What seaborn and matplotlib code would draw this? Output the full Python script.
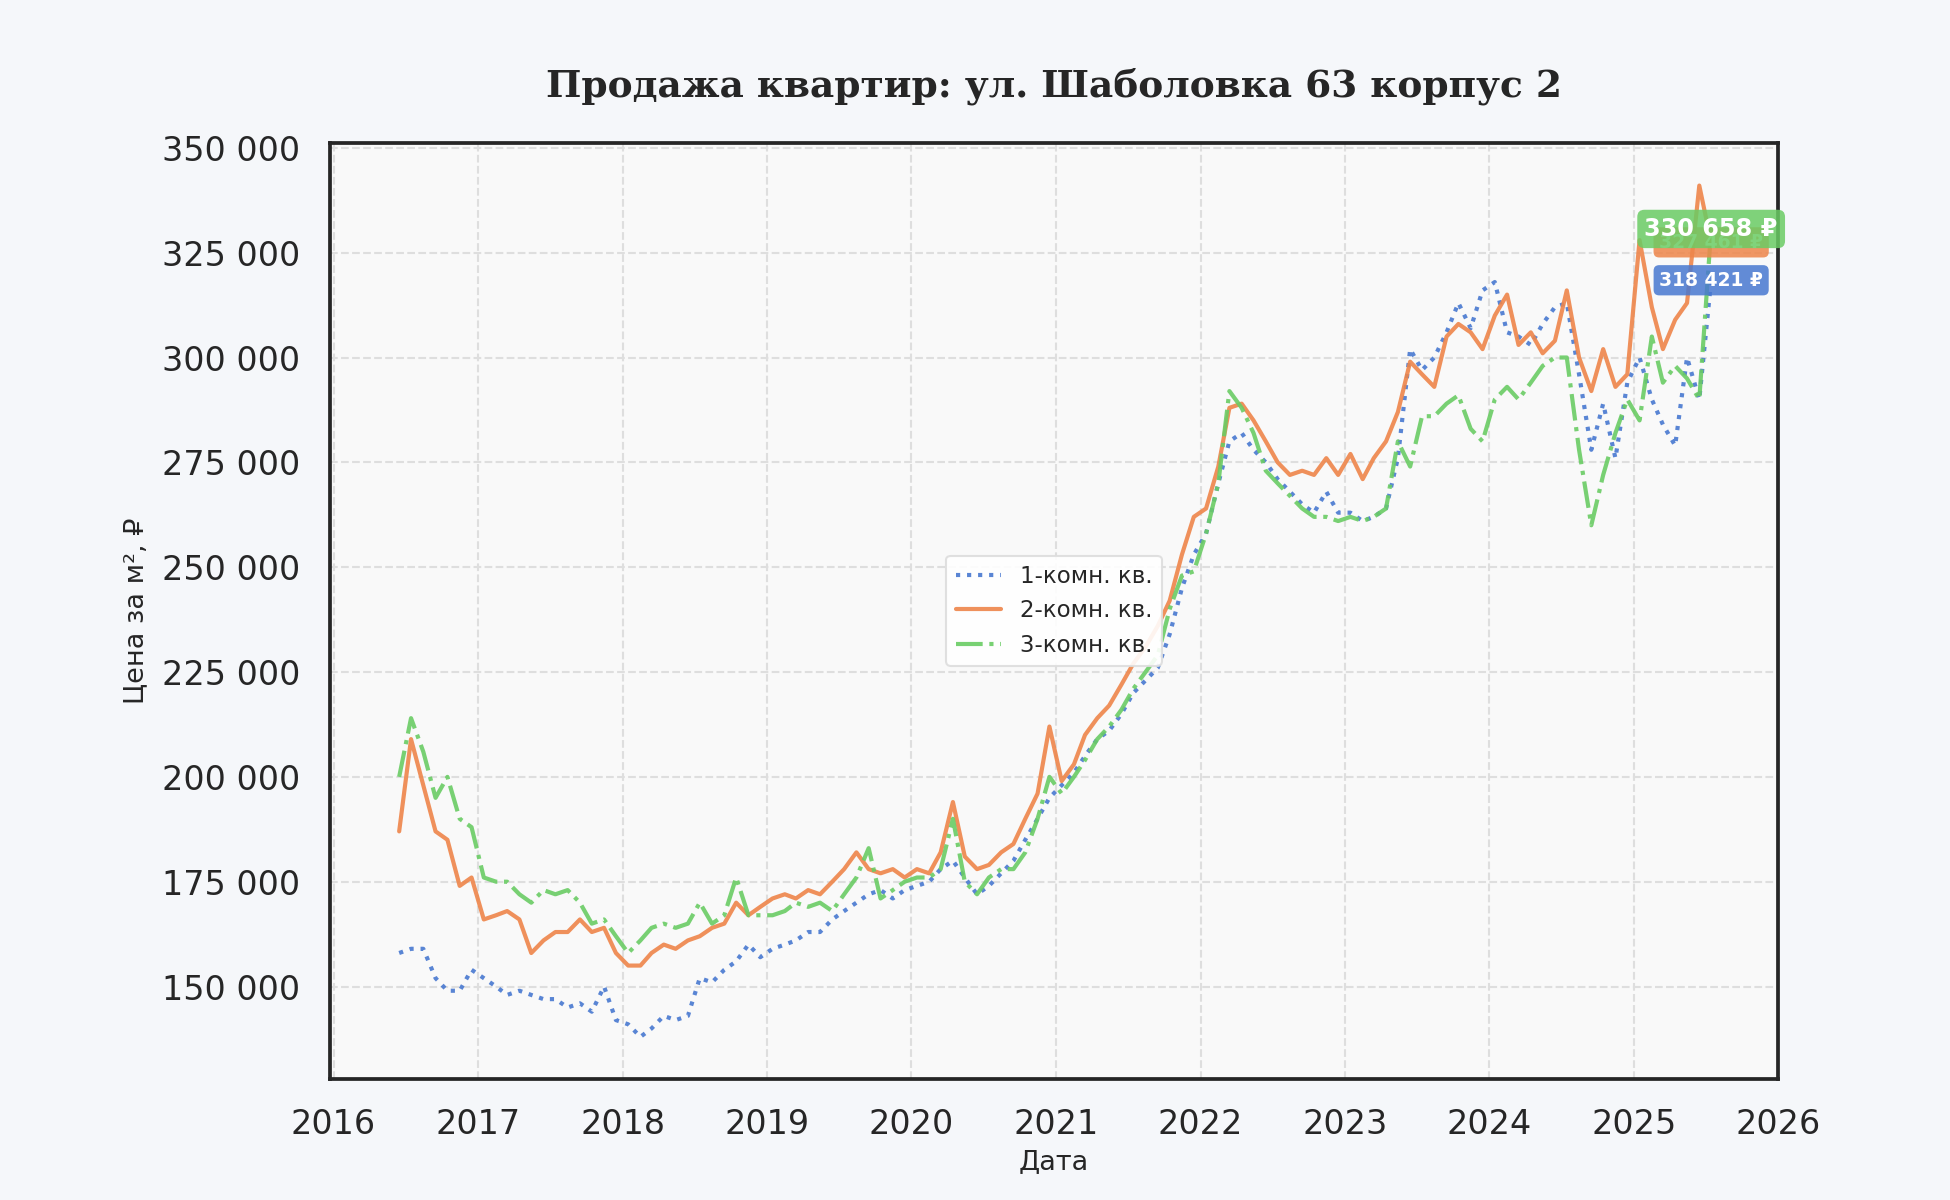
import numpy as np
import pandas as pd
import matplotlib
matplotlib.use("Agg")
import matplotlib.pyplot as plt
import matplotlib.dates as mdates
from matplotlib.ticker import FuncFormatter, MultipleLocator
import seaborn as sns

# ---------------- data (price per m², thousands of ₽, monthly) ----------------
start_date = "2016-06-01"
end_date = "2025-07-01"

room1 = [158, 159, 159, 152, 149, 149, 154,
         152, 150, 148, 149, 148, 147, 147, 145, 146, 144, 150, 142,
         141, 138, 140, 143, 142, 143, 152, 151, 154, 156, 160, 157,
         159, 160, 161, 163, 163, 166, 168, 170, 172, 173, 171, 173,
         174, 175, 178, 180, 176, 172, 174, 177, 180, 185, 190, 195,
         198, 201, 205, 209, 211, 215, 220, 223, 226, 234, 245, 253,
         258, 270, 280, 282, 278, 275, 271, 268, 265, 263, 268, 263,
         263, 261, 262, 264, 276, 302, 297, 300, 306, 313, 307, 316,
         318, 306, 305, 303, 308, 312, 313, 296, 278, 289, 276, 294,
         300, 290, 284, 279, 300, 290, 318.421]

room2 = [187, 209, 198, 187, 185, 174, 176,
         166, 167, 168, 166, 158, 161, 163, 163, 166, 163, 164, 158,
         155, 155, 158, 160, 159, 161, 162, 164, 165, 170, 167, 169,
         171, 172, 171, 173, 172, 175, 178, 182, 178, 177, 178, 176,
         178, 177, 182, 194, 181, 178, 179, 182, 184, 190, 196, 212,
         199, 203, 210, 214, 217, 222, 227, 231, 236, 242, 253, 262,
         264, 274, 288, 289, 285, 280, 275, 272, 273, 272, 276, 272,
         277, 271, 276, 280, 287, 299, 296, 293, 305, 308, 306, 302,
         310, 315, 303, 306, 301, 304, 316, 300, 292, 302, 293, 296,
         328, 312, 302, 309, 313, 341, 327.461]

room3 = [200, 214, 206, 195, 200, 190, 188,
         176, 175, 175, 172, 170, 173, 172, 173, 170, 165, 166, 162,
         158, 161, 164, 165, 164, 165, 170, 165, 167, 176, 167, 167,
         167, 168, 170, 169, 170, 168, 172, 176, 183, 171, 173, 175,
         176, 176, 178, 190, 175, 172, 176, 178, 178, 182, 190, 200,
         196, 200, 204, 209, 212, 216, 221, 225, 229, 240, 248, 249,
         258, 270, 292, 288, 282, 273, 270, 267, 264, 262, 262, 261,
         262, 261, 262, 264, 280, 274, 286, 286, 289, 291, 283, 280,
         290, 293, 290, 294, 298, 300, 300, 278, 260, 272, 282, 290,
         285, 305, 294, 298, 295, 290, 330.658]

series_names = ["1-комн. кв.", "2-комн. кв.", "3-комн. кв."]
series_vals = [room1, room2, room3]
colors = ["#4878d0", "#ee854a", "#6acc64"]
styles = [":", "-", "-."]

title = "Продажа квартир: ул. Шаболовка 63 корпус 2"
xlabel = "Дата"
ylabel = "Цена за м², ₽"

dates = pd.date_range(start_date, end_date, freq="MS") + pd.Timedelta(days=14)

# ---------------- plotting ----------------
sns.set_theme(style="whitegrid")
plt.rcParams["font.family"] = ["DejaVu Sans"]

fig, ax = plt.subplots(figsize=(13, 8), dpi=150)
fig.patch.set_facecolor("#f5f7fa")
ax.set_facecolor("#f9f9f9")
fig.subplots_adjust(left=0.169, right=0.912, top=0.881, bottom=0.101)

for name, vals, c, ls in zip(series_names, series_vals, colors, styles):
    n = min(len(vals), len(dates))
    df = pd.DataFrame({"date": dates[:n], "price": np.array(vals[:n]) * 1000})
    sns.lineplot(data=df, x="date", y="price", ax=ax, color=c, linestyle=ls,
                 linewidth=2.0, alpha=0.9, label=name)

# end labels
label_sizes = [9, 9, 11.5]
for i in [0, 1, 2]:
    vals = series_vals[i]
    n = min(len(vals), len(dates))
    last_v = vals[n - 1] * 1000
    last_d = dates[n - 1]
    txt = f"{last_v:,.0f}".replace(",", " ") + " ₽"
    ax.text(last_d, last_v, txt, ha="center", va="center",
            fontsize=label_sizes[i], fontweight="bold", color="white",
            zorder=10 + i,
            bbox=dict(boxstyle="round,pad=0.3", facecolor=colors[i],
                      edgecolor="none", alpha=0.85))

ax.set_xlim(pd.Timestamp("2015-12-22"), pd.Timestamp("2026-01-01"))
ax.set_ylim(128000, 351200)
ax.xaxis.set_major_locator(mdates.YearLocator())
ax.xaxis.set_major_formatter(mdates.DateFormatter("%Y"))
ax.yaxis.set_major_locator(MultipleLocator(25000))
ax.yaxis.set_major_formatter(FuncFormatter(lambda v, p: f"{v:,.0f}".replace(",", " ")))
ax.tick_params(axis="both", labelsize=16, colors="#262626")
ax.tick_params(axis="x", pad=8)
ax.tick_params(axis="y", pad=8)

ax.grid(True, linestyle="--", color="#dedede", linewidth=1.0)
for s in ax.spines.values():
    s.set_visible(True)
    s.set_color("#262626")
    s.set_linewidth(1.8)

ax.set_title(title, fontsize=18, fontweight="bold", family="DejaVu Serif",
             color="#262626", pad=22)
ax.set_xlabel(xlabel, fontsize=13, color="#262626", labelpad=4)
ax.set_ylabel(ylabel, fontsize=13, color="#262626", labelpad=6)

leg = ax.legend(loc="center", fontsize=11, frameon=True, facecolor="white",
                edgecolor="#dddddd", framealpha=0.9)

fig.savefig("out.png", dpi=150, facecolor=fig.get_facecolor())
